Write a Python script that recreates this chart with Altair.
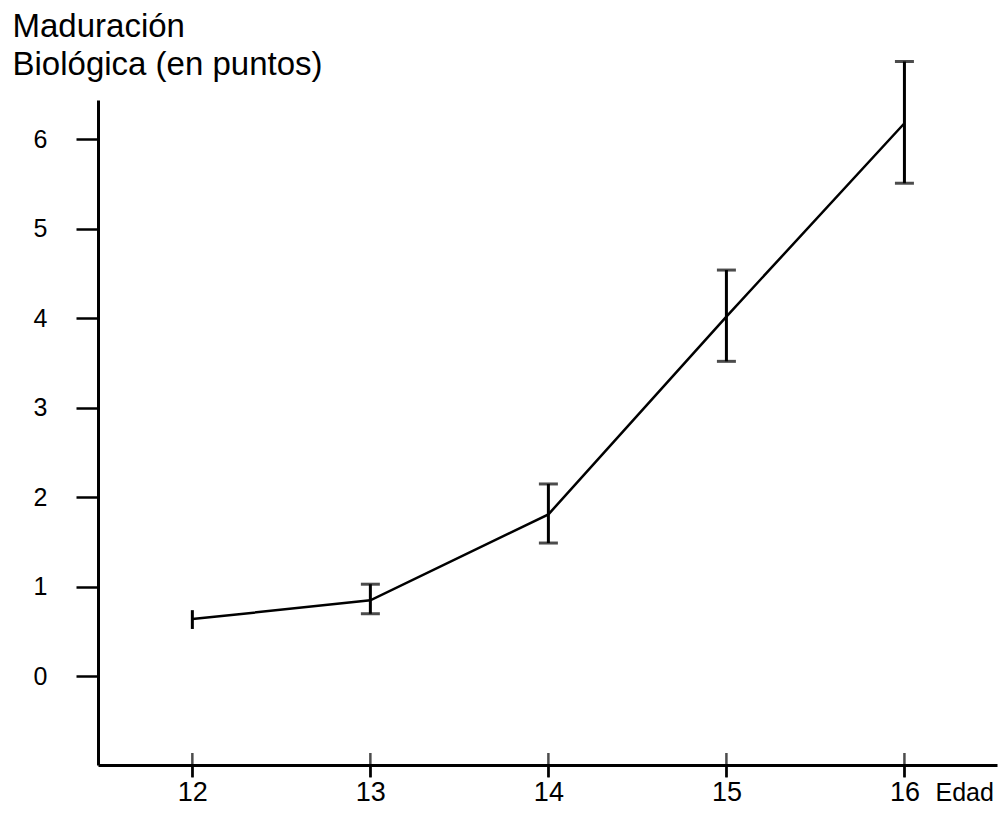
import altair as alt
import pandas as pd

# Data
edad = [12, 13, 14, 15, 16]
media = [0.64, 0.85, 1.81, 4.02, 6.18]
inferior = [0.53, 0.70, 1.49, 3.52, 5.51]
superior = [0.74, 1.03, 2.15, 4.54, 6.87]
x_ticks = [12, 13, 14, 15, 16]
y_ticks = [0, 1, 2, 3, 4, 5, 6]

df = pd.DataFrame({"edad": edad, "media": media, "inf": inferior, "sup": superior})
ticks_df = pd.DataFrame({"t": x_ticks})

XDOM = [11.47, 16.52]
YDOM = [-0.99, 6.44]
FONT = "Liberation Sans"

xs = alt.Scale(domain=XDOM, nice=False, zero=False)
ys = alt.Scale(domain=YDOM, nice=False, zero=False)

xaxis = alt.Axis(
    values=x_ticks, format="d", title="Edad",
    titleX=837, titleY=35, titleAlign="left", titleBaseline="alphabetic",
    titleFont=FONT, titleFontSize=25, titleFontWeight="normal", titleColor="black",
    labelFont=FONT, labelFontSize=27, labelColor="black", labelPadding=2,
    tickSize=12, tickWidth=2.5, tickColor="black",
    domainColor="black", domainWidth=3, grid=False,
)
yaxis = alt.Axis(
    values=y_ticks, format="d", title=["Maduración", "Biológica (en puntos)"],
    titleAngle=0, titleX=-86, titleY=-64, titleAlign="left", titleBaseline="alphabetic",
    titleLineHeight=38, titleFont=FONT, titleFontSize=33, titleFontWeight="normal",
    titleColor="black",
    labelFont=FONT, labelFontSize=25, labelColor="black", labelPadding=29,
    tickSize=22, tickWidth=2.5, tickColor="black",
    domainColor="black", domainWidth=3, grid=False,
)

base = alt.Chart(df)

line = base.mark_line(color="black", strokeWidth=2.5).encode(
    x=alt.X("edad:Q", scale=xs, axis=xaxis),
    y=alt.Y("media:Q", scale=ys, axis=yaxis),
)

bars = base.mark_rule(color="black", strokeWidth=3).encode(
    x=alt.X("edad:Q", scale=xs),
    y=alt.Y("inf:Q", scale=ys),
    y2="sup:Q",
)

caps_lo = base.transform_filter("datum.edad > 12").mark_tick(
    orient="horizontal", color="black", size=19, thickness=3
).encode(x=alt.X("edad:Q", scale=xs), y=alt.Y("inf:Q", scale=ys))

caps_hi = base.transform_filter("datum.edad > 12").mark_tick(
    orient="horizontal", color="black", size=19, thickness=3
).encode(x=alt.X("edad:Q", scale=xs), y=alt.Y("sup:Q", scale=ys))

axis_ticks_in = alt.Chart(ticks_df).mark_tick(
    orient="vertical", color="black", size=24, thickness=2.5
).encode(x=alt.X("t:Q", scale=xs), y=alt.datum(YDOM[0], scale=ys))

chart = alt.layer(line, bars, caps_lo, caps_hi, axis_ticks_in).properties(
    width=899, height=665,
    padding={"left": 90, "top": 92, "right": 2, "bottom": 43},
    autosize="none",
    background="white",
).configure_view(stroke=None)

chart.save("out.html", embed_options={"renderer": "svg", "actions": False})
